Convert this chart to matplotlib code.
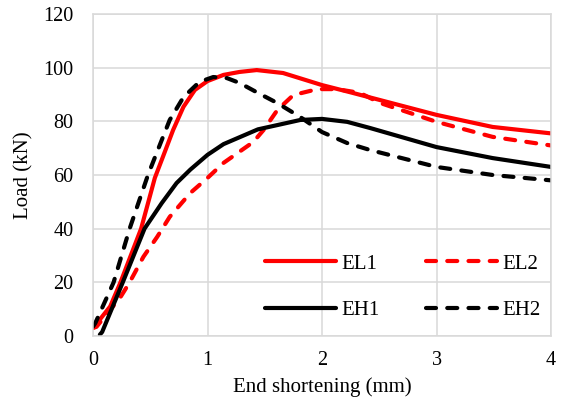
import matplotlib
matplotlib.use('Agg')
import matplotlib.pyplot as plt

plt.rcParams['font.family'] = ['Liberation Serif', 'DejaVu Serif']

# 读图得到的数据点 (端部缩短 mm, 荷载 kN)
el1_x = [0.0, 0.02, 0.15, 0.24, 0.42, 0.54, 0.61, 0.70, 0.79, 0.89, 1.0, 1.14,
         1.28, 1.43, 1.66, 2.0, 2.24, 2.5, 3.0, 3.49, 4.0]
el1_y = [3, 4, 11, 20, 40, 58.9, 66.7, 76.8, 85.4, 91.7, 95, 97.3,
         98.4, 99.1, 98, 93.5, 90.9, 88, 82.4, 77.9, 75.5]

el2_x = [0.0, 0.03, 0.24, 0.32, 0.44, 0.56, 0.67, 0.85, 1.0, 1.14, 1.40, 1.49,
         1.61, 1.75, 1.96, 2.13, 2.33, 2.51, 3.0, 3.49, 4.0]
el2_y = [3, 3.4, 14.5, 20, 29.5, 36.9, 44.4, 53.3, 58.9, 64.5, 72.3, 76.8,
         84.2, 89.8, 92, 92, 90.6, 86.8, 79.8, 74.2, 71]

eh1_x = [0.06, 0.08, 0.26, 0.45, 0.6, 0.73, 0.85, 1.0, 1.14, 1.44, 1.61, 1.81,
         2.0, 2.22, 2.42, 3.0, 3.49, 4.0]
eh1_y = [0.5, 1.5, 20, 40, 49.5, 57, 62, 67.5, 71.5, 77, 78.6, 80.5,
         80.9, 79.8, 77.5, 70.4, 66.3, 63]

eh2_x = [0.0, 0.02, 0.18, 0.32, 0.48, 0.59, 0.67, 0.79, 0.93, 1.05, 1.17, 1.28,
         1.44, 1.61, 1.81, 2.0, 2.22, 2.42, 3.0, 3.49, 4.0]
eh2_y = [3.5, 4.8, 20, 40, 60, 71.9, 80.5, 89, 94.7, 96.5, 96.1, 94.3,
         90.6, 86.8, 81.6, 76, 71.9, 69.3, 63, 60, 58]

fig = plt.figure(figsize=(5.63, 4.03), dpi=100)
ax = fig.add_axes([0.1652, 0.1663, 0.8135, 0.799])

lw = 3.0
dash = (2.4, 2.7)
l1, = ax.plot(el1_x, el1_y, color='#FF0000', lw=lw, solid_capstyle='round',
              solid_joinstyle='round', label='EL1')
l2, = ax.plot(el2_x, el2_y, color='#FF0000', lw=lw, dashes=dash,
              dash_capstyle='round', dash_joinstyle='round', label='EL2')
l3, = ax.plot(eh1_x, eh1_y, color='black', lw=lw, solid_capstyle='round',
              solid_joinstyle='round', label='EH1')
l4, = ax.plot(eh2_x, eh2_y, color='black', lw=lw, dashes=dash,
              dash_capstyle='round', dash_joinstyle='round', label='EH2')

ax.set_xlim(0, 4)
ax.set_ylim(0, 120)
ax.set_xticks([0, 1, 2, 3, 4])
ax.set_yticks(range(0, 121, 20))
ax.grid(True, color='#d9d9d9', lw=1.1)
ax.set_axisbelow(True)
for sp in ax.spines.values():
    sp.set_color('#d9d9d9')
    sp.set_linewidth(1.1)
ax.tick_params(length=0, labelsize=14.5, pad=11)
ax.tick_params(axis='y', pad=14)

ax.set_xlabel('End shortening (mm)', fontsize=15, labelpad=5)
ax.set_ylabel('Load (kN)', fontsize=15, labelpad=7)

# 图例按行排列: EL1 EL2 / EH1 EH2
ax.legend([l1, l3, l2, l4], ['EL1', 'EH1', 'EL2', 'EH2'], ncol=2,
          frameon=False, fontsize=15, loc='lower right',
          bbox_to_anchor=(1.0, 0.016), borderpad=0, handlelength=3.4,
          handletextpad=0.25, columnspacing=2.25, labelspacing=1.3)

plt.savefig('out.png', dpi=100)
plt.close(fig)
